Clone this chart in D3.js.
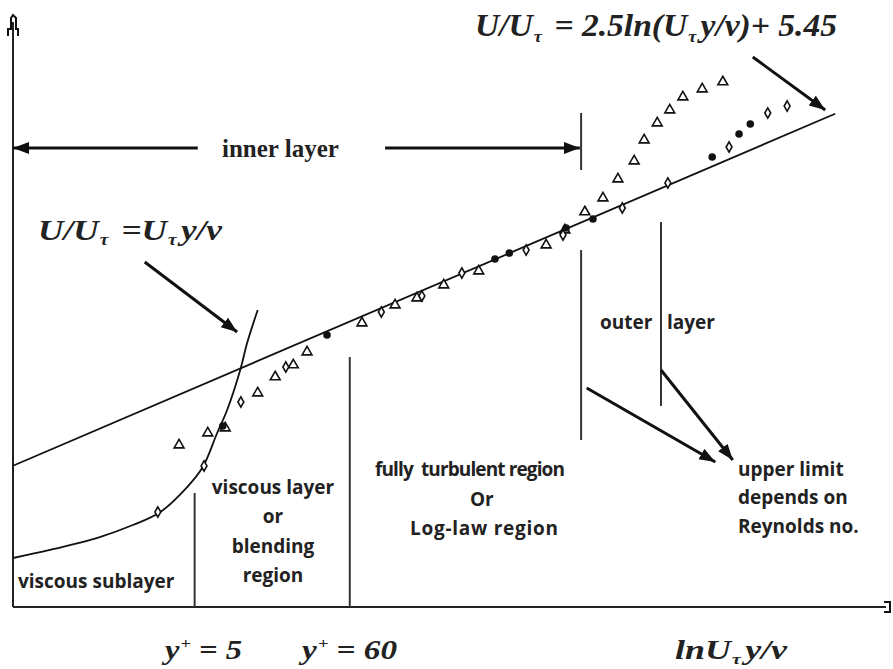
<!DOCTYPE html>
<html>
<head>
<meta charset="utf-8">
<script src="https://cdn.jsdelivr.net/npm/d3@7"></script>
<style>
  body { margin: 0; background: #fff; }
  svg { display: block; }
  .math { font-family: "Liberation Serif", "DejaVu Serif", serif; font-weight: bold; font-style: italic; fill: #222; }
  .serif { font-family: "Liberation Serif", "DejaVu Serif", serif; font-weight: bold; fill: #222; }
  .lbl { font-family: "Open Sans", "Noto Sans", sans-serif; font-weight: bold; font-size: 19px; fill: #222; }
</style>
</head>
<body>
<svg id="chart"></svg>
<script>
// x = ln(y+), y = U+

// log-law line endpoints
const logLaw = [[-1.3, 2.2], [11.87, 35.1]]

// viscous sublayer curve U+ = y+
const viscous = [[-1.3, -6.42], [-0.71, -5.67], [0.09, -4.46], [0.62, -3.34], [1.06, -2.12],
  [1.49, 0.21], [1.74, 2.08], [1.97, 5.26], [2.13, 7.41], [2.34, 11.15], [2.45, 13.67], [2.62, 16.76]]

const triangles = [[1.36, 4.14], [1.82, 5.26], [2.10, 5.73], [2.62, 9.00], [2.90, 10.50], [3.19, 11.62],
  [3.41, 12.83], [4.29, 15.54], [4.82, 17.22], [5.17, 17.88], [5.60, 19.09], [6.16, 20.40], [7.24, 22.83],
  [7.54, 24.23], [7.86, 25.92], [8.15, 27.22], [8.39, 29.00], [8.65, 30.68], [8.81, 32.64], [9.02, 34.23],
  [9.22, 35.45], [9.43, 36.66], [9.74, 37.41], [10.07, 38.07]]

const diamonds = [[1.02, -2.12], [1.76, 2.18], [2.35, 8.16], [3.07, 11.43], [4.60, 16.57], [5.25, 18.07],
  [5.89, 20.21], [6.92, 22.36], [7.51, 23.77], [8.46, 26.29], [9.19, 28.63], [10.17, 31.99], [10.79, 35.17],
  [11.10, 35.82]]

const filled = [[2.06, 5.92], [3.73, 14.42], [6.42, 21.52], [6.65, 22.08], [7.56, 24.42], [7.99, 25.26],
  [9.90, 31.06], [10.33, 33.21], [10.51, 34.14]]

// region boundaries: [x, U bottom, U top]
const bounds = [[Math.log(5), -11, -0.35], [Math.log(60), -11, 12.36], [7.8, 4.61, 22.36],
  [7.8, 29.84, 35.17], [9.08, 7.79, 24.98]]

// annotation arrows: [x1, U1, x2, U2]
const arrows = [[1.66, 31.9, -1.3, 31.9], [4.66, 31.9, 7.78, 31.9], [0.81, 21.24, 2.29, 14.70],
  [10.55, 40.40, 11.71, 35.45], [7.89, 9.47, 9.95, 2.55], [9.08, 11.15, 10.23, 2.74]]

let width = 893
let height = 669

let svg = d3.select("#chart")
  .attr("width", width)
  .attr("height", height)

let x = d3.scaleLinear().domain([-1.3, 12.7]).range([13, 887])
let y = d3.scaleLinear().domain([-11, 44]).range([607, 18.5])

svg.append("defs").append("marker")
  .attr("id", "head")
  .attr("markerUnits", "userSpaceOnUse")
  .attr("markerWidth", 20).attr("markerHeight", 14)
  .attr("refX", 16).attr("refY", 6)
  .attr("orient", "auto")
  .append("path")
  .attr("d", "M0,0 L16,6 L0,12 Z")
  .attr("fill", "#111")

// axes
let x0 = x(-1.3), y0 = y(-11)
svg.append("line")
  .attr("x1", x0).attr("y1", y0).attr("x2", x0).attr("y2", 22)
  .attr("stroke", "#222").attr("stroke-width", 2)
svg.append("line")
  .attr("x1", x0).attr("y1", y0).attr("x2", 886).attr("y2", y0)
  .attr("stroke", "#222").attr("stroke-width", 2)
// odd little axis arrow heads
svg.append("path")
  .attr("d", `M${x0 - 5},36 L${x0 - 5},29 L${x0 - 2},29 L${x0 - 2},18 L${x0},15 L${x0 + 3},18 L${x0 + 3},29 L${x0 + 5},29 L${x0 + 5},36`)
  .attr("fill", "none").attr("stroke", "#111").attr("stroke-width", 2)
svg.append("path")
  .attr("d", `M884,${y0 - 5} L890,${y0 - 5} L890,${y0 + 5} L884,${y0 + 5}`)
  .attr("fill", "none").attr("stroke", "#111").attr("stroke-width", 2)

// region boundaries
svg.selectAll(".bound")
  .data(bounds)
  .enter().append("line")
  .attr("class", "bound")
  .attr("x1", d => x(d[0])).attr("x2", d => x(d[0]))
  .attr("y1", d => y(d[1])).attr("y2", d => y(d[2]))
  .attr("stroke", "#333").attr("stroke-width", 2)

// curves
let line = d3.line().x(d => x(d[0])).y(d => y(d[1]))
svg.append("path")
  .datum(logLaw)
  .attr("d", line)
  .attr("fill", "none").attr("stroke", "#111").attr("stroke-width", 1.8)
svg.append("path")
  .datum(viscous)
  .attr("d", line.curve(d3.curveCatmullRom))
  .attr("fill", "none").attr("stroke", "#111").attr("stroke-width", 1.8)

// data points
svg.selectAll(".tri")
  .data(triangles)
  .enter().append("path")
  .attr("class", "tri")
  .attr("d", d3.symbol(d3.symbolTriangle, 42))
  .attr("transform", d => `translate(${x(d[0])},${y(d[1])})`)
  .attr("fill", "#fff").attr("stroke", "#111").attr("stroke-width", 1.6)
svg.selectAll(".dia")
  .data(diamonds)
  .enter().append("path")
  .attr("class", "dia")
  .attr("d", d3.symbol(d3.symbolDiamond, 30))
  .attr("transform", d => `translate(${x(d[0])},${y(d[1])})`)
  .attr("fill", "#fff").attr("stroke", "#111").attr("stroke-width", 1.6)
svg.selectAll(".dot")
  .data(filled)
  .enter().append("path")
  .attr("class", "dot")
  .attr("d", d3.symbol(d3.symbolCircle, 45))
  .attr("transform", d => `translate(${x(d[0])},${y(d[1])})`)
  .attr("fill", "#111")

// arrows
svg.selectAll(".arrow")
  .data(arrows)
  .enter().append("line")
  .attr("class", "arrow")
  .attr("x1", d => x(d[0])).attr("y1", d => y(d[1]))
  .attr("x2", d => x(d[2])).attr("y2", d => y(d[3]))
  .attr("stroke", "#111").attr("stroke-width", 3)
  .attr("marker-end", "url(#head)")

// formulas
function formula(parts, px, py, size, len) {
  let t = svg.append("text").attr("class", "math")
    .attr("x", px).attr("y", py)
    .style("font-size", size + "px")
  parts.forEach(p => {
    let s = t.append("tspan").text(p[0])
    if (p[1] == "sub") s.style("font-size", (size * 0.55) + "px").attr("dy", size * 0.18).attr("dx", 1)
    else if (p[1] == "sup") s.style("font-size", (size * 0.55) + "px").attr("dy", -size * 0.4).attr("dx", 1)
    else if (p[1] == "back") s.attr("dy", -size * 0.18).attr("dx", size * 0.12)
    else if (p[1] == "down") s.attr("dy", size * 0.4)
  })
  if (len) t.attr("textLength", len).attr("lengthAdjust", "spacingAndGlyphs")
}

formula([["U/U"], ["τ", "sub"], [" = 2.5ln(U", "back"], ["τ", "sub"], ["y/v", "back"], [")+ 5.45"]], 475, 36, 32, 362)
formula([["U/U"], ["τ", "sub"], [" =U", "back"], ["τ", "sub"], ["y/v", "back"]], 38, 240, 30, 184)
formula([["y"], ["+", "sup"], [" = 5", "down"]], 165, 659, 28, 77)
formula([["y"], ["+", "sup"], [" = 60", "down"]], 302, 659, 28, 95)
formula([["lnU"], ["τ", "sub"], ["y/v", "back"]], 675, 659, 28, 112)

svg.append("text").attr("class", "serif")
  .attr("x", 222).attr("y", 157)
  .style("font-size", "25px")
  .text("inner layer")

// region labels: text, x, baseline, anchor, optional width
let labels = [
  ["viscous sublayer", 18, 588, "start"],
  ["viscous layer", 273, 494, "middle"],
  ["or", 273, 523, "middle"],
  ["blending", 273, 553, "middle"],
  ["region", 273, 582, "middle"],
  ["fully  turbulent region", 375, 476, "start", 190],
  ["Or", 470, 506, "start"],
  ["Log-law region", 410, 535, "start", 148],
  ["outer", 600, 329, "start"],
  ["layer", 667, 329, "start"],
  ["upper limit", 738, 476, "start"],
  ["depends on", 738, 504, "start"],
  ["Reynolds no.", 738, 533, "start"]
]
svg.selectAll(".lbl")
  .data(labels)
  .enter().append("text")
  .attr("class", "lbl")
  .attr("x", d => d[1]).attr("y", d => d[2])
  .attr("text-anchor", d => d[3])
  .attr("textLength", d => d[4] || null)
  .style("white-space", "pre")
  .text(d => d[0])
</script>
</body>
</html>
